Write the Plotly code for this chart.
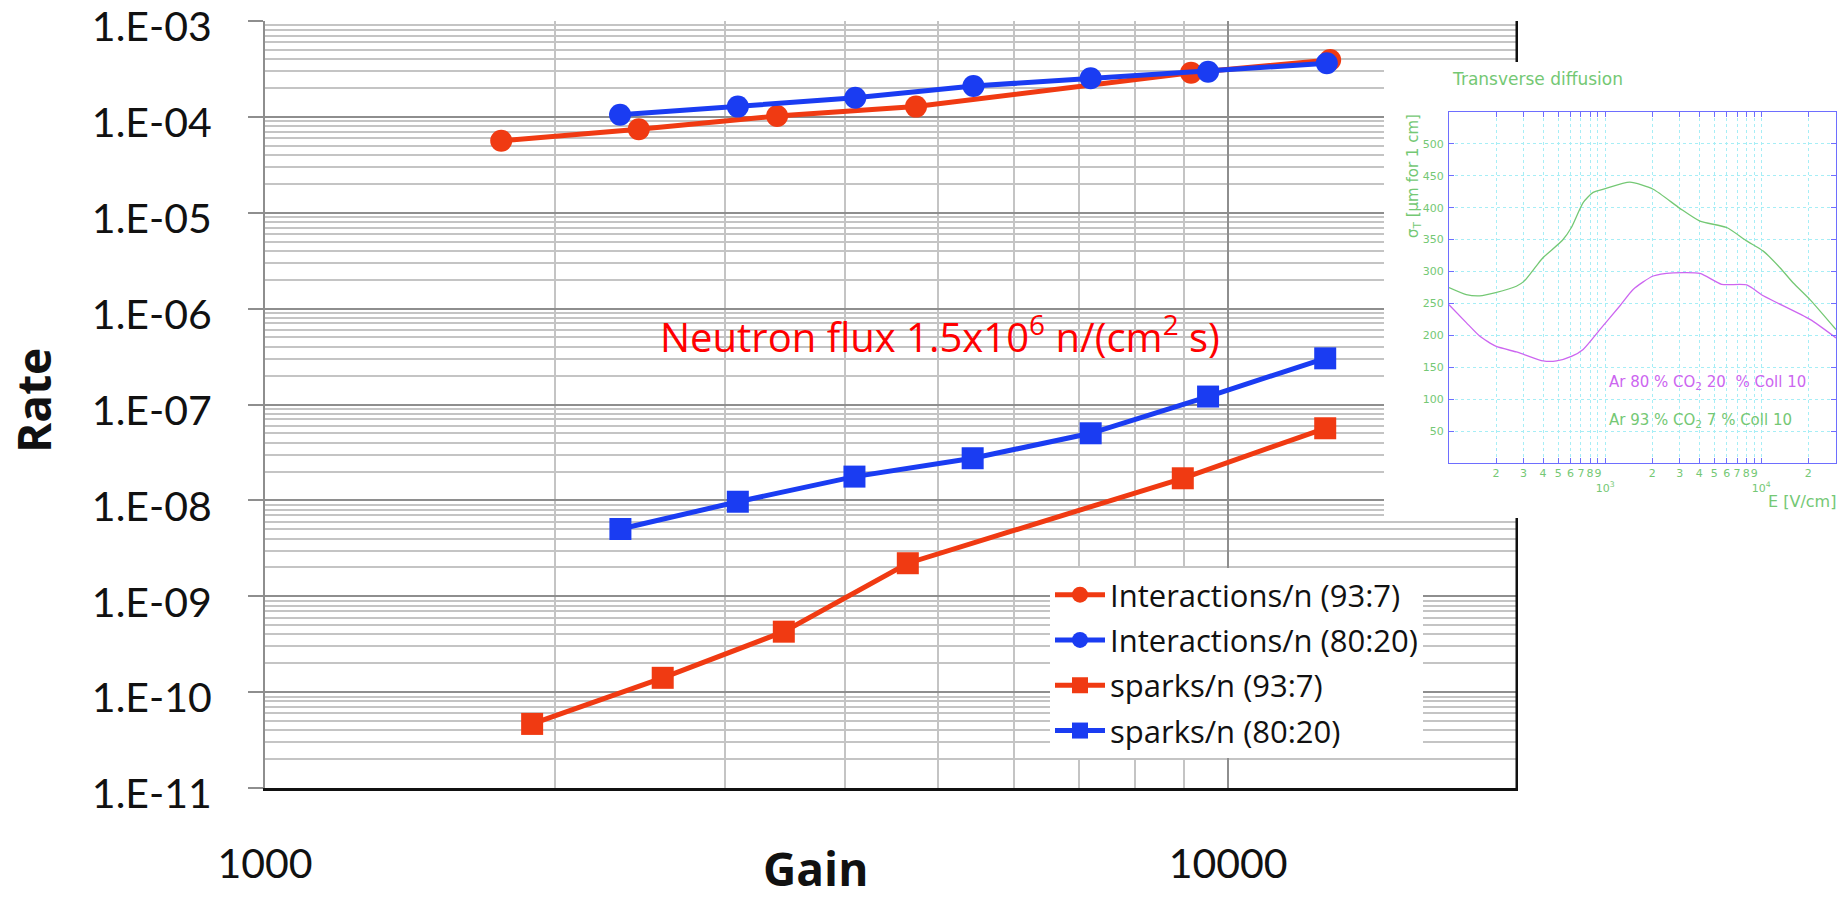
import numpy as np
import plotly.graph_objects as go

# ---------------- data (main chart) ----------------
gain_int_93 = [1759, 2444, 3402, 4742, 9152, 12764]
rate_int_93 = [5.64e-5, 7.42e-5, 1.02e-4, 1.28e-4, 2.89e-4, 3.92e-4]

gain_int_80 = [2337, 3097, 4101, 5440, 7200, 9533, 12663]
rate_int_80 = [1.05e-4, 1.28e-4, 1.58e-4, 2.10e-4, 2.53e-4, 2.96e-4, 3.62e-4]

gain_spk_93 = [1894, 2588, 3457, 4650, 8974, 12614]
rate_spk_93 = [4.66e-11, 1.41e-10, 4.27e-10, 2.21e-9, 1.70e-8, 5.65e-8]

gain_spk_80 = [2339, 3097, 4093, 5430, 7200, 9533, 12614]
rate_spk_80 = [5.03e-9, 9.68e-9, 1.77e-8, 2.75e-8, 5.01e-8, 1.21e-7, 3.03e-7]

names = ["Interactions/n (93:7)", "Interactions/n (80:20)", "sparks/n (93:7)", "sparks/n (80:20)"]

y_tickvals = [1e-11, 1e-10, 1e-9, 1e-8, 1e-7, 1e-6, 1e-5, 1e-4, 1e-3]
y_ticktext = ["1.E-11", "1.E-10", "1.E-09", "1.E-08", "1.E-07", "1.E-06", "1.E-05", "1.E-04", "1.E-03"]
x_tickvals = [1000, 10000]
x_ticktext = ["1000", "10000"]

# ---------------- data (inset: transverse diffusion) ----------------
e_field_93 = [100, 129, 157, 199, 270, 303, 363, 401, 533, 608, 723, 838, 1004, 1440, 2030,
              3011, 4047, 5998, 8058, 10300, 13180, 16040, 20510, 30100]
sigma_93 = [275, 264, 262, 267, 277, 285, 309, 322, 349, 369, 408, 424, 430, 440, 429,
            399, 379, 369, 348, 332, 306, 282, 256, 209]

e_field_80 = [100, 129, 157, 199, 270, 303, 401, 488, 608, 723, 925, 1241, 1511, 2030, 2729,
              4047, 5572, 8058, 10300, 20510, 30100]
sigma_80 = [248, 220, 199, 183, 174, 170, 160, 160, 167, 178, 209, 246, 272, 293, 298,
            297, 280, 279, 262, 225, 196]

inset_x_tickvals = [200, 300, 400, 500, 600, 700, 800, 900, 1000,
                    2000, 3000, 4000, 5000, 6000, 7000, 8000, 9000, 10000, 20000]
inset_x_ticktext = ["2", "3", "4", "5", "6", "7", "8", "9", " <br>10<sup>3</sup>",
                    "2", "3", "4", "5", "6", "7", "8", "9", " <br>10<sup>4</sup>", "2"]
inset_y_tickvals = [50, 100, 150, 200, 250, 300, 350, 400, 450, 500]

# ---------------- styling ----------------
RED = "#F03A12"
BLUE = "#1A3CF2"
GREEN = "#74C874"
MAGENTA = "#CC66F0"
BOXBLUE = "#6E6EFF"
CYAN = "#A6EEF6"
FONT = "Open Sans"
TICKFONT = "Lato"
W, H = 1845, 902
ML, MR, MT, MB = 265, 0, 21, 114
PW = W - ML - MR
PH = H - MT - MB
X_LO, X_HI = 3.0, float(np.log10(20000))
Y_LO, Y_HI = -11.0, -3.0
MAIN_R = 1518


def px_x(px):
    return (px - ML) / PW


def px_y(py):
    return (H - MB - py) / PH


def gx_at(px):
    # gain value on the main x axis at pixel px
    return 10 ** (X_LO + (px - ML) / (MAIN_R - ML) * (X_HI - X_LO))


def ry_at(py):
    # rate value on the main y axis at pixel py
    return 10 ** (Y_HI - (py - MT) / PH * (Y_HI - Y_LO))


fig = go.Figure()

# right border of the main plot area (drawn first so the inset panel hides it)
fig.add_trace(go.Scatter(
    x=[10 ** X_HI, 10 ** X_HI], y=[10 ** Y_LO, 10 ** Y_HI], mode="lines",
    line=dict(color="#111111", width=5), showlegend=False, hoverinfo="skip",
    xaxis="x", yaxis="y"))

# white panel behind the inset (hides the main grid there)
cx0, cx1 = gx_at(1384), gx_at(1600)
cy0, cy1 = ry_at(518), ry_at(62)
fig.add_trace(go.Scatter(
    x=[cx0, cx1, cx1, cx0, cx0], y=[cy0, cy0, cy1, cy1, cy0], mode="lines",
    fill="toself", fillcolor="white", line=dict(width=0, color="white"),
    showlegend=False, hoverinfo="skip", xaxis="x", yaxis="y"))

series = [
    (gain_int_93, rate_int_93, RED, "circle"),
    (gain_int_80, rate_int_80, BLUE, "circle"),
    (gain_spk_93, rate_spk_93, RED, "square"),
    (gain_spk_80, rate_spk_80, BLUE, "square"),
]
for (gx, ry, col, sym), nm in zip(series, names):
    fig.add_trace(go.Scatter(
        x=gx, y=ry, name=nm, mode="lines+markers",
        line=dict(color=col, width=5),
        marker=dict(color=col, size=22, symbol=sym, line=dict(width=0)),
        xaxis="x", yaxis="y", legendgroup=nm,
    ))

fig.add_trace(go.Scatter(x=e_field_93, y=sigma_93, mode="lines", showlegend=False,
                         line=dict(color=GREEN, width=1.3, shape="spline", smoothing=0.6),
                         xaxis="x2", yaxis="y2"))
fig.add_trace(go.Scatter(x=e_field_80, y=sigma_80, mode="lines", showlegend=False,
                         line=dict(color=MAGENTA, width=1.3, shape="spline", smoothing=0.6),
                         xaxis="x2", yaxis="y2"))

x_minor = [k * 1000 for k in range(2, 10)] + [20000]
y_minor = [k * 10.0 ** e for e in range(-11, -3) for k in range(2, 10)]

fig.update_layout(
    width=W, height=H,
    margin=dict(l=ML, r=MR, t=MT, b=MB, pad=0, autoexpand=False),
    paper_bgcolor="white", plot_bgcolor="white",
    font=dict(family=FONT, color="#111111"),
    xaxis=dict(
        type="log", domain=[0, px_x(MAIN_R)], range=[X_LO, X_HI],
        tickmode="array", tickvals=x_tickvals, ticktext=x_ticktext,
        tickfont=dict(family=TICKFONT, size=41, color="#111111"),
        ticks="", ticklabelstandoff=38, ticklabeloverflow="allow", automargin=False,
        showgrid=True, gridcolor="#8e8e8e", gridwidth=1.5,
        minor=dict(tickmode="array", tickvals=x_minor, showgrid=True,
                   gridcolor="#c4c4c4", gridwidth=1.5, ticks=""),
        showline=True, linecolor="#111111", linewidth=2.5,
        zeroline=False, anchor="y",
    ),
    yaxis=dict(
        type="log", domain=[0, 1], range=[Y_LO, Y_HI],
        tickmode="array", tickvals=y_tickvals, ticktext=y_ticktext,
        tickfont=dict(family=TICKFONT, size=41, color="#111111"),
        ticks="outside", ticklen=15, tickcolor="#8e8e8e", tickwidth=2,
        ticklabelstandoff=28, ticklabelshift=6,
        ticklabeloverflow="allow", automargin=False,
        showgrid=True, gridcolor="#8e8e8e", gridwidth=2,
        minor=dict(tickmode="array", tickvals=y_minor, showgrid=True,
                   gridcolor="#c4c4c4", gridwidth=1.5, ticks=""),
        showline=True, linecolor="#8e8e8e", linewidth=2,
        zeroline=False, anchor="x",
    ),
    xaxis2=dict(
        type="log", domain=[px_x(1449), px_x(1836)], range=[2, np.log10(30100)],
        tickmode="array", tickvals=inset_x_tickvals, ticktext=inset_x_ticktext,
        tickfont=dict(family="DejaVu Sans", size=11, color=GREEN), tickangle=0,
        ticks="inside", ticklen=5, tickcolor=BOXBLUE, mirror="allticks",
        showline=True, linecolor=BOXBLUE, linewidth=1.2, automargin=False,
        showgrid=True, gridcolor=CYAN, gridwidth=1, griddash="dot",
        zeroline=False, anchor="y2", ticklabelstandoff=0,
    ),
    yaxis2=dict(
        domain=[px_y(463), px_y(112)], range=[0, 550],
        tickmode="array", tickvals=inset_y_tickvals,
        tickfont=dict(family="DejaVu Sans", size=11, color=GREEN),
        ticks="inside", ticklen=5, tickcolor=BOXBLUE, mirror="allticks",
        showline=True, linecolor=BOXBLUE, linewidth=1.2, automargin=False,
        showgrid=True, gridcolor=CYAN, gridwidth=1, griddash="dot",
        zeroline=False, anchor="x2", ticklabelstandoff=2,
    ),
    legend=dict(
        x=px_x(1050), y=px_y(568), xanchor="left", yanchor="top",
        bgcolor="white", borderwidth=0,
        font=dict(family=FONT, size=31, color="#111111"),
        itemwidth=50, traceorder="grouped", tracegroupgap=2,
        entrywidth=390, entrywidthmode="pixels",
    ),
    showlegend=True,
)

annotations = [
    dict(text="<b>Rate</b>", x=px_x(33), y=px_y(401), textangle=-90,
         font=dict(family=FONT, size=46, color="#111111")),
    dict(text="<b>Gain</b>", x=px_x(815), y=px_y(901), yanchor="bottom",
         font=dict(family=FONT, size=46, color="#111111")),
    dict(text="Neutron flux 1.5x10<sup>6</sup> n/(cm<sup>2</sup> s)", x=px_x(658), y=px_y(334),
         xanchor="left", font=dict(family=FONT, size=40, color="#FF0000")),
    dict(text="Transverse diffusion", x=px_x(1450), y=px_y(79), xanchor="left",
         font=dict(family="DejaVu Sans", size=17, color=GREEN)),
    dict(text="σ<sub>T</sub> [μm for 1 cm]", x=px_x(1413), y=px_y(112), yanchor="top",
         textangle=-90, font=dict(family="DejaVu Sans", size=15, color=GREEN)),
    dict(text="E [V/cm]", x=px_x(1838), y=px_y(501), xanchor="right",
         font=dict(family="DejaVu Sans", size=16, color=GREEN)),
    dict(text="Ar 80 % CO<sub>2</sub> 20  % Coll 10", x=px_x(1607), y=px_y(382), xanchor="left",
         font=dict(family="DejaVu Sans", size=15, color=MAGENTA)),
    dict(text="Ar 93 % CO<sub>2</sub> 7 % Coll 10", x=px_x(1607), y=px_y(420), xanchor="left",
         font=dict(family="DejaVu Sans", size=15, color=GREEN)),
]
for a in annotations:
    a.update(xref="paper", yref="paper", showarrow=False)
    a.setdefault("xanchor", "center")
    a.setdefault("yanchor", "middle")
fig.update_layout(annotations=annotations)

fig.write_html("out.html")
